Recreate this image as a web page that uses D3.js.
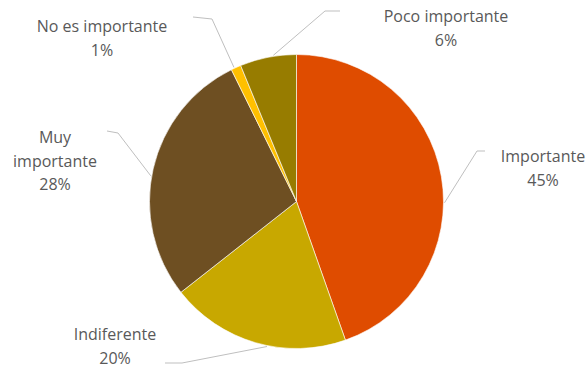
<!DOCTYPE html>
<html>
<head>
<meta charset="utf-8">
<script src="https://cdn.jsdelivr.net/npm/d3@7"></script>
<style>
  body { margin: 0; background: #fff; }
  text { font-family: "Open Sans", sans-serif; font-size: 16px; fill: #595959; }
</style>
</head>
<body>
<script>
// data
const categories = ['Importante', 'Indiferente', 'Muy importante', 'No es importante', 'Poco importante'];
const values = [44.6, 19.8, 28.3, 1.1, 6.2];
const colors = ['#DF4C00', '#C8A800', '#6E4F22', '#FFC000', '#977C00'];

// label layout: text lines, text centre x, first baseline, leader anchor angle and elbow points
const labelLines = [['Importante'], ['Indiferente'], ['Muy', 'importante'], ['No es importante'], ['Poco importante']];
const labelPos = [
  { x: 543, y: 162, anchor: 90.5, elbow: [[477, 151], [485, 151]] },
  { x: 115, y: 340, anchor: 191.5, elbow: [[182, 363], [165, 363]] },
  { x: 55, y: 143, anchor: 280, elbow: [[118, 133], [107, 131]] },
  { x: 102, y: 32, anchor: 335, elbow: [[212, 19], [193, 17]] },
  { x: 446, y: 22, anchor: 351, elbow: [[325, 11], [340, 11]] }
];

const width = 587, height = 367;
const cx = 296.5, cy = 201.5, radius = 147;

const svg = d3.select('body')
            .append('svg')
            .attr('width', width)
            .attr('height', height);

const pie = d3.pie().sort(null).value(d => d);
const arcs = pie(values);
const arc = d3.arc().innerRadius(0).outerRadius(radius);

const g = svg.append('g').attr('transform', `translate(${cx}, ${cy})`);

g.selectAll('path')
  .data(arcs)
  .enter()
  .append('path')
  .attr('d', arc)
  .attr('fill', (d, i) => colors[i])
  .attr('stroke', '#fff')
  .attr('stroke-width', 0.6);

const total = d3.sum(values);
const lineHeight = 23.5;

// leader lines and labels
labelPos.forEach((p, i) => {
  const a = p.anchor * Math.PI / 180;
  const start = [cx + (radius + 1) * Math.sin(a), cy - (radius + 1) * Math.cos(a)];
  svg.append('path')
    .attr('d', d3.line()([start].concat(p.elbow)))
    .attr('fill', 'none')
    .attr('stroke', '#BFBFBF')
    .attr('stroke-width', 1);

  const lines = labelLines[i].concat([Math.round(values[i] / total * 100) + '%']);
  const t = svg.append('text')
    .attr('text-anchor', 'middle');
  lines.forEach((s, k) => {
    t.append('tspan')
      .attr('x', p.x)
      .attr('y', p.y + k * lineHeight)
      .text(s);
  });
});
</script>
</body>
</html>
